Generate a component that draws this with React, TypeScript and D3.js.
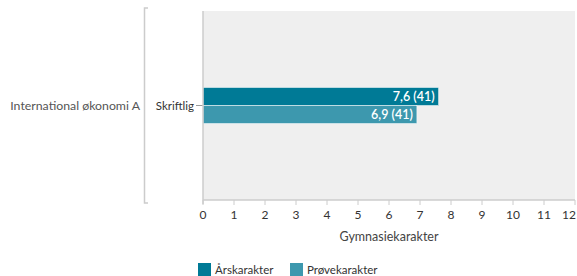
import React from "react";
import * as d3 from "d3";

const categories = ["Skriftlig"];
const groupLabel = "International økonomi A";
const seriesNames = ["Årskarakter", "Prøvekarakter"];
const seriesColors = ["#007a96", "#3d98ae"];
const aarskarakter = [7.6];
const proevekarakter = [6.9];
const counts = [[41], [41]];
const xTicks = [0, 1, 2, 3, 4, 5, 6, 7, 8, 9, 10, 11, 12];
const xTitle = "Gymnasiekarakter";

export default function App() {
  const W = 577, H = 276;
  const left = 203, right = 575, top = 11, bottom = 200;
  const x = d3.scaleLinear().domain([0, 12]).range([left, right]);
  const y = d3.scaleBand().domain(categories).range([top, bottom]);
  const series = [aarskarakter, proevekarakter];
  const barH = 18;
  const font = "Lato, 'Open Sans', sans-serif";
  const fmt = (v: number) => v.toFixed(1).replace(".", ",");
  return (
    <svg width={W} height={H} style={{ position: "absolute", left: 0, top: 0 }} fontFamily={font}>
      <rect x={left} y={top} width={right - left} height={bottom - top} fill="#efefef" />
      {categories.map((c, ci) => {
        const cy = (y(c) as number) + y.bandwidth() / 2;
        return (
          <g key={c}>
            {series.map((s, si) => {
              const y0 = cy - barH + si * barH;
              return (
                <g key={si}>
                  <rect x={x(0)} y={y0} width={x(s[ci]) - x(0)} height={barH} fill={seriesColors[si]} stroke="#fff" strokeWidth={0.5} />
                  <text x={x(s[ci]) - 4} y={y0 + barH / 2} dy="0.35em" textAnchor="end" fill="#fff" fontSize={12.5} fontWeight={600}>
                    {fmt(s[ci])} ({counts[si][ci]})
                  </text>
                </g>
              );
            })}
            <line x1={left - 7} x2={left} y1={cy} y2={cy} stroke="#999" />
            <text x={left - 9} y={cy} dy="0.35em" textAnchor="end" fill="#333" fontSize={11.5}>{c}</text>
          </g>
        );
      })}
      <line x1={left} x2={left} y1={top} y2={bottom + 4} stroke="#ccc" strokeWidth={1.5} />
      <line x1={left} x2={right} y1={bottom} y2={bottom} stroke="#ccc" strokeWidth={1.5} />
      {xTicks.map((t) => (
        <g key={t}>
          <line x1={x(t)} x2={x(t)} y1={bottom} y2={bottom + 5} stroke="#ccc" />
          <text x={t === 12 ? x(t) - 6 : x(t)} y={bottom + 19} textAnchor="middle" fill="#333" fontSize={12}>{t}</text>
        </g>
      ))}
      <text x={(left + right) / 2} y={bottom + 41} textAnchor="middle" fill="#444" fontSize={12.5}>{xTitle}</text>
      <path d={`M148,8 H144.5 V203 H148`} fill="none" stroke="#ccc" strokeWidth={1.5} />
      <text x={140} y={(top + bottom) / 2} dy="0.35em" textAnchor="end" fill="#555" fontSize={12.3}>{groupLabel}</text>
      {seriesNames.map((n, i) => {
        const lx = i === 0 ? 198 : 290;
        return (
          <g key={n}>
            <rect x={lx} y={263} width={13} height={13} fill={seriesColors[i]} />
            <text x={lx + 17} y={270} dy="0.35em" fill="#333" fontSize={11.5}>{n}</text>
          </g>
        );
      })}
    </svg>
  );
}
